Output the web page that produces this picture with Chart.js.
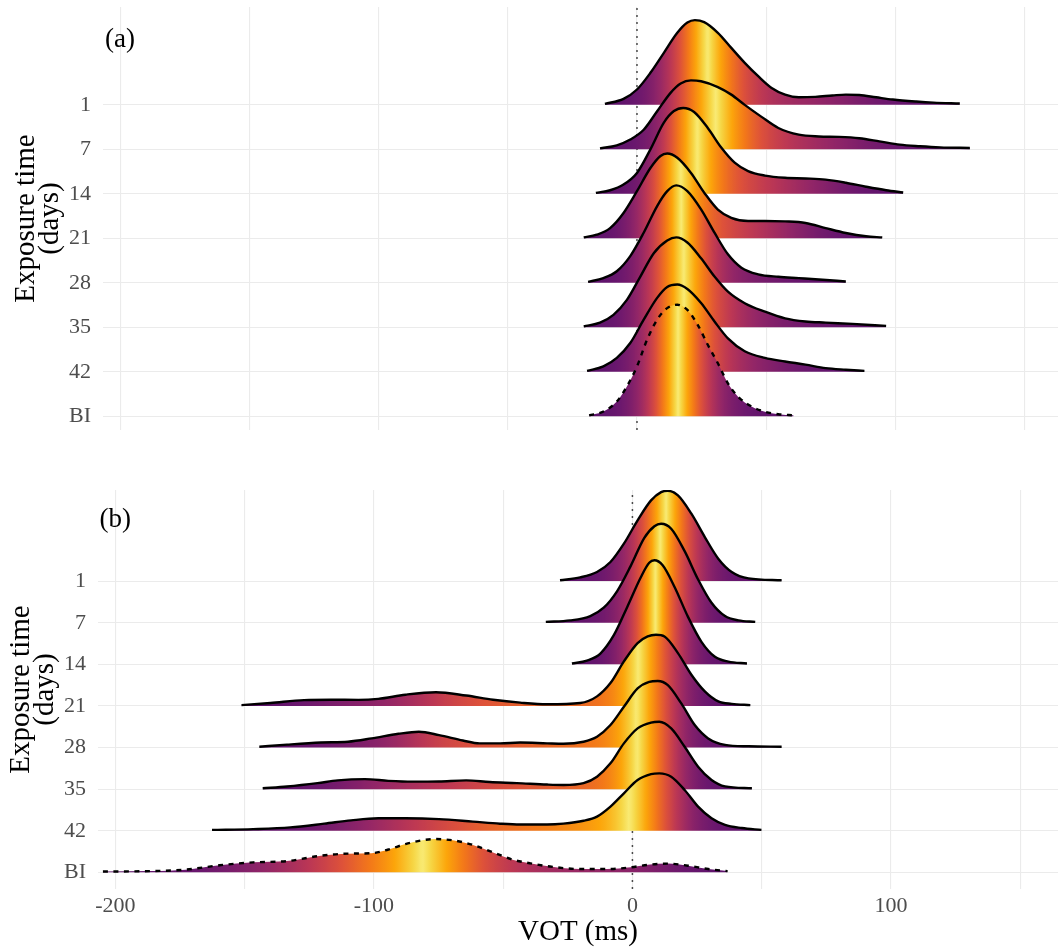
<!DOCTYPE html>
<html>
<head>
<meta charset="utf-8">
<script src="https://cdn.jsdelivr.net/npm/chart.js@4.4.1/dist/chart.umd.min.js"></script>
<style>
html,body{margin:0;padding:0;background:#ffffff;}
#wrap{position:relative;width:1058px;height:949px;overflow:hidden;}
canvas{position:absolute;left:0;}
</style>
</head>
<body>
<div id="wrap">
<canvas id="chartA" width="1058" height="440" style="top:0px"></canvas>
<canvas id="chartB" width="1058" height="489" style="top:460px"></canvas>
</div>
<script>
// ---------------- data ----------------
const rowLabels = ['1', '7', '14', '21', '28', '35', '42', 'BI'];
const xGridTicks = [-200, -150, -100, -50, 0, 50, 100, 150];
const xLabelTicks = [-200, -100, 0, 100];
const panelLabels = ['(a)', '(b)'];
const xTitle = 'VOT (ms)';
const yTitle = ['Exposure time', '(days)'];

// Panel (a): VOT values (ms) and ridge heights (row units)
const a_vot_1  = [-12.4, -5.2, 0, 5.2, 10.4, 15.6, 19.5, 22.4, 26, 31.3, 36.5, 41.7, 46.9, 52.1, 57.3, 62.6, 69, 75.6, 80.8, 86, 92.5, 99, 108, 114.7, 124.9];
const a_dens_1 = [0.02, 0.135, 0.345, 0.72, 1.17, 1.62, 1.85, 1.905, 1.86, 1.62, 1.28, 0.945, 0.645, 0.38, 0.23, 0.17, 0.18, 0.21, 0.23, 0.22, 0.17, 0.12, 0.075, 0.05, 0.03];
const a_vot_7  = [-14.3, -7.8, -2.6, 2.6, 7.8, 13, 16.9, 20.9, 24.8, 31.3, 36.5, 41.7, 48.2, 54.7, 62.6, 70.4, 78.2, 86, 93.8, 101.7, 109.5, 117.3, 128.8];
const a_dens_7 = [0.02, 0.09, 0.22, 0.44, 0.855, 1.27, 1.48, 1.55, 1.53, 1.40, 1.23, 1.0, 0.73, 0.48, 0.33, 0.29, 0.28, 0.25, 0.18, 0.105, 0.07, 0.045, 0.03];
const a_vot_14  = [-15.9, -10.4, -5.2, 0, 5.2, 10.4, 14.3, 17.9, 22.1, 27.4, 32.6, 37.8, 43, 49.5, 57.3, 65.2, 73, 80.8, 88.6, 96.4, 103];
const a_dens_14 = [0.02, 0.08, 0.21, 0.47, 1.0, 1.6, 1.86, 1.93, 1.84, 1.48, 1.04, 0.70, 0.51, 0.41, 0.36, 0.345, 0.32, 0.25, 0.16, 0.08, 0.03];
const a_vot_21  = [-20.6, -15.6, -10.4, -5.2, 0, 5.2, 9.1, 11.7, 15.6, 20.9, 26.1, 31.3, 36.5, 43, 49.5, 57.3, 65.2, 73, 80.8, 88.6, 94.9];
const a_dens_21 = [0.02, 0.08, 0.23, 0.57, 1.06, 1.58, 1.85, 1.905, 1.81, 1.47, 1.02, 0.645, 0.46, 0.39, 0.39, 0.38, 0.345, 0.23, 0.12, 0.045, 0.02];
const a_vot_28  = [-18.9, -13, -7.8, -2.6, 2.6, 7.8, 11.7, 15.2, 19.5, 24.8, 30, 35.2, 40.4, 46.9, 54.7, 62.6, 70.4, 80.8];
const a_dens_28 = [0.02, 0.105, 0.26, 0.6, 1.125, 1.725, 2.06, 2.19, 2.06, 1.65, 1.125, 0.64, 0.34, 0.19, 0.135, 0.105, 0.075, 0.03];
const a_vot_35  = [-20.6, -14.3, -9.1, -3.9, 1.3, 6.5, 11.7, 15.2, 19.5, 24.8, 30, 35.2, 41.7, 49.5, 57.3, 65.2, 73, 83.4, 96.4];
const a_dens_35 = [0.02, 0.105, 0.28, 0.615, 1.14, 1.665, 1.95, 2.02, 1.905, 1.55, 1.14, 0.80, 0.54, 0.35, 0.2, 0.13, 0.105, 0.075, 0.03];
const a_vot_42  = [-19.3, -13, -7.8, -2.6, 2.6, 7.8, 11.7, 15.6, 19.5, 24.8, 30, 35.2, 41.7, 49.5, 57.3, 65.2, 73, 80.8, 88];
const a_dens_42 = [0.02, 0.12, 0.31, 0.645, 1.17, 1.66, 1.905, 1.96, 1.86, 1.545, 1.13, 0.75, 0.46, 0.31, 0.23, 0.16, 0.08, 0.045, 0.02];
const a_vot_BI  = [-18.5, -13, -7.8, -3.9, 0, 3.9, 7.8, 11.7, 15.6, 19.5, 23.5, 27.4, 31.3, 35.2, 39.1, 44.3, 49.5, 54.7, 60.6];
const a_dens_BI = [0.02, 0.105, 0.33, 0.67, 1.12, 1.72, 2.17, 2.43, 2.505, 2.39, 2.055, 1.605, 1.19, 0.74, 0.44, 0.22, 0.1, 0.045, 0.02];

// Panel (b)
const b_vot_1  = [-28, -20.2, -13.7, -8.5, -3.3, 2, 7.2, 11.1, 13.7, 17.6, 22.8, 28, 33.2, 38.4, 44.9, 57.7];
const b_dens_1 = [0.02, 0.09, 0.22, 0.46, 0.9, 1.46, 1.94, 2.14, 2.17, 2.06, 1.62, 1.06, 0.54, 0.22, 0.065, 0.02];
const b_vot_7  = [-33.5, -24.1, -16.3, -11.1, -5.9, -0.7, 4.6, 8.5, 11.1, 15, 20.2, 25.4, 30.6, 35.8, 41, 47.5];
const b_dens_7 = [0.02, 0.055, 0.16, 0.36, 0.76, 1.36, 2.04, 2.32, 2.38, 2.26, 1.72, 1.04, 0.48, 0.16, 0.055, 0.02];
const b_vot_14  = [-23.4, -17.6, -12.4, -7.2, -2, 3.3, 6.5, 8.5, 11.7, 16.3, 21.5, 26.7, 31.9, 37.1, 44.3];
const b_dens_14 = [0.02, 0.09, 0.26, 0.70, 1.38, 2.1, 2.44, 2.5, 2.38, 1.86, 1.14, 0.54, 0.18, 0.065, 0.02];
const b_vot_21  = [-151.2, -140, -127, -116.6, -106, -98.3, -87.8, -76, -64.3, -53.9, -43.4, -33, -20.2, -13.7, -8.5, -3.3, 2, 5.9, 9.1, 12.4, 17.6, 22.8, 28, 33.2, 38.4, 45.6];
const b_dens_21 = [0.02, 0.07, 0.14, 0.15, 0.145, 0.17, 0.27, 0.33, 0.25, 0.15, 0.08, 0.04, 0.07, 0.23, 0.55, 1.07, 1.51, 1.67, 1.71, 1.67, 1.27, 0.75, 0.35, 0.11, 0.05, 0.02];
const b_vot_28  = [-144.3, -133.6, -120.5, -110, -100.9, -90.5, -82.6, -74.8, -65.6, -59.1, -51.2, -43.4, -33, -26.7, -18.9, -13.7, -8.5, -3.3, 2, 6.5, 9.8, 13.7, 18.9, 24.1, 29.3, 35.8, 44.9, 57.7];
const b_dens_28 = [0.02, 0.07, 0.12, 0.14, 0.22, 0.33, 0.38, 0.3, 0.17, 0.1, 0.1, 0.12, 0.1, 0.09, 0.14, 0.26, 0.54, 0.98, 1.42, 1.58, 1.6, 1.5, 1.06, 0.54, 0.22, 0.065, 0.03, 0.02];
const b_vot_35  = [-143, -133.6, -121.8, -114, -103.5, -94.4, -85.2, -74.8, -64.3, -55.2, -44.7, -33, -26.7, -18.9, -13.7, -8.5, -3.3, 2, 7.2, 10.4, 15, 20.2, 25.4, 30.6, 35.8, 46.2];
const b_dens_35 = [0.02, 0.065, 0.145, 0.21, 0.24, 0.2, 0.18, 0.185, 0.21, 0.17, 0.145, 0.11, 0.1, 0.145, 0.3, 0.62, 1.1, 1.46, 1.6, 1.62, 1.46, 1.02, 0.54, 0.22, 0.065, 0.02];
const b_vot_42  = [-162.6, -146.7, -132.3, -119.2, -108.8, -98.3, -87.8, -74.8, -61.7, -51.2, -43.4, -33, -26.7, -18.9, -13.7, -8.5, -3.3, 2, 7.2, 10.4, 15, 20.2, 25.4, 30.6, 35.8, 42.3, 49.9];
const b_dens_42 = [0.02, 0.04, 0.08, 0.17, 0.25, 0.3, 0.3, 0.28, 0.22, 0.17, 0.15, 0.15, 0.17, 0.24, 0.34, 0.58, 0.9, 1.22, 1.36, 1.38, 1.3, 0.98, 0.58, 0.3, 0.14, 0.065, 0.02];
const b_vot_BI  = [-204.8, -185.9, -172.8, -159.7, -146.7, -133.6, -120.5, -110, -100.9, -94.4, -87.8, -81.3, -76, -69.5, -61.7, -53.9, -46, -39.7, -31.9, -20.2, -9.8, -0.7, 5.9, 13.7, 21.5, 29.3, 36.8];
const b_dens_BI = [0.02, 0.03, 0.065, 0.17, 0.24, 0.27, 0.40, 0.45, 0.46, 0.55, 0.68, 0.77, 0.8, 0.77, 0.66, 0.48, 0.3, 0.22, 0.14, 0.08, 0.08, 0.12, 0.18, 0.21, 0.16, 0.08, 0.03];

const panelASeries = [[a_vot_1, a_dens_1], [a_vot_7, a_dens_7], [a_vot_14, a_dens_14], [a_vot_21, a_dens_21], [a_vot_28, a_dens_28], [a_vot_35, a_dens_35], [a_vot_42, a_dens_42], [a_vot_BI, a_dens_BI]];
const panelBSeries = [[b_vot_1, b_dens_1], [b_vot_7, b_dens_7], [b_vot_14, b_dens_14], [b_vot_21, b_dens_21], [b_vot_28, b_dens_28], [b_vot_35, b_dens_35], [b_vot_42, b_dens_42], [b_vot_BI, b_dens_BI]];

// ---------------- colour helpers (inferno, tail probability) ----------------
const INFERNO = ['#000004', '#160b39', '#420a68', '#6a176e', '#932667', '#bc3754', '#dd513a', '#f37819', '#fca50a', '#f6d746', '#fcffa4'];
const INF_RGB = INFERNO.map(h => [parseInt(h.slice(1, 3), 16), parseInt(h.slice(3, 5), 16), parseInt(h.slice(5, 7), 16)]);
const CBEGIN = 0.27, CEND = 0.95;
function inferno(p) {
  p = Math.max(0, Math.min(1, p));
  const s = p * 10, i = Math.min(9, Math.floor(s)), f = s - i;
  const a = INF_RGB[i], b = INF_RGB[i + 1];
  return 'rgb(' + Math.round(a[0] + (b[0] - a[0]) * f) + ',' + Math.round(a[1] + (b[1] - a[1]) * f) + ',' + Math.round(a[2] + (b[2] - a[2]) * f) + ')';
}
function densAt(vot, dens, x) {
  for (let i = 1; i < vot.length; i++) {
    if (x <= vot[i]) {
      const f = (x - vot[i - 1]) / (vot[i] - vot[i - 1]);
      return dens[i - 1] + (dens[i] - dens[i - 1]) * f;
    }
  }
  return dens[dens.length - 1];
}
function ridgeFill(chart, vot, dens) {
  if (!chart.chartArea || !chart.scales || !chart.scales.x) return 'rgb(106,23,110)';
  const xs = chart.scales.x;
  const N = 240, x0 = vot[0], x1 = vot[vot.length - 1];
  const d = [], F = [0];
  for (let k = 0; k <= N; k++) d.push(densAt(vot, dens, x0 + (x1 - x0) * k / N));
  for (let k = 1; k <= N; k++) F.push(F[k - 1] + (d[k - 1] + d[k]) / 2);
  const tot = F[N];
  const g = chart.ctx.createLinearGradient(xs.getPixelForValue(x0), 0, xs.getPixelForValue(x1), 0);
  for (let k = 0; k <= N; k++) {
    const e = F[k] / tot;
    const t = 0.5 - Math.abs(0.5 - e);
    g.addColorStop(k / N, inferno(CBEGIN + (CEND - CBEGIN) * t / 0.5));
  }
  return g;
}

// ---------------- chart building ----------------
Chart.defaults.font.family = "'Liberation Serif', 'Times New Roman', serif";
Chart.defaults.animation = false;

const panelLabelPlugin = {
  id: 'panelLabel',
  afterDatasetsDraw(chart, args, opts) {
    const ctx = chart.ctx;
    ctx.save();
    ctx.font = "27px 'Liberation Serif', serif";
    ctx.fillStyle = '#000000';
    ctx.textAlign = 'center';
    ctx.textBaseline = 'middle';
    ctx.fillText(opts.text, chart.scales.x.getPixelForValue(opts.x), chart.scales.y.getPixelForValue(opts.y));
    ctx.restore();
  }
};

function makePanel(canvasId, series, cfg) {
  const n = rowLabels.length;
  const datasets = [{
    data: [{x: 0, y: cfg.ymin}, {x: 0, y: cfg.ymax}],
    borderColor: '#4a4a4a', borderWidth: 1.5, borderDash: [2, 5],
    pointRadius: 0, fill: false, order: 100
  }];
  series.forEach((s, i) => {
    const pos = n - i;
    const vot = s[0], dens = s[1];
    datasets.push({
      label: rowLabels[i],
      data: vot.map((x, j) => ({x: x, y: pos + dens[j]})),
      borderColor: '#000000',
      borderWidth: 2.4,
      borderDash: rowLabels[i] === 'BI' ? [5, 5.5] : [],
      borderCapStyle: 'butt',
      borderJoinStyle: 'round',
      pointRadius: 0,
      fill: {value: pos},
      backgroundColor: (c) => ridgeFill(c.chart, vot, dens),
      cubicInterpolationMode: 'monotone',
      order: pos
    });
  });

  return new Chart(document.getElementById(canvasId), {
    type: 'line',
    data: {datasets: datasets},
    plugins: [panelLabelPlugin],
    options: {
      responsive: false,
      animation: false,
      events: [],
      layout: {padding: {top: cfg.top, bottom: cfg.bottom, left: 0, right: 0}},
      plugins: {
        legend: {display: false},
        tooltip: {enabled: false},
        panelLabel: {text: cfg.label, x: -200, y: 9.46}
      },
      scales: {
        x: {
          type: 'linear',
          min: cfg.xmin, max: cfg.xmax,
          afterBuildTicks: (sc) => { sc.ticks = xGridTicks.map(v => ({value: v})); },
          ticks: {
            display: cfg.showX, autoSkip: false, maxRotation: 0, padding: 6,
            color: '#4d4d4d', font: {size: 22, lineHeight: 1},
            callback: (v) => xLabelTicks.includes(v) ? String(v) : ''
          },
          grid: {color: '#ebebeb', lineWidth: 1.1, drawTicks: false},
          border: {display: false},
          title: {
            display: cfg.showX, text: xTitle, color: '#000000',
            font: {size: 29, lineHeight: 1}, padding: {top: 0, bottom: 2.5}
          },
          afterFit: (sc) => { sc.height = cfg.xh; sc.paddingLeft = 0; sc.paddingRight = 0; }
        },
        y: {
          type: 'linear',
          min: cfg.ymin, max: cfg.ymax,
          afterBuildTicks: (sc) => { sc.ticks = rowLabels.map((_, i) => ({value: i + 1})); },
          ticks: {
            autoSkip: false, padding: 12, color: '#4d4d4d', font: {size: 22},
            callback: (v) => rowLabels[n - v]
          },
          grid: {color: '#ebebeb', lineWidth: 1.1, drawTicks: false},
          border: {display: false},
          title: {
            display: true, text: yTitle, color: '#000000',
            font: {size: 29, lineHeight: 0.82}, padding: {top: cfg.tpad, bottom: 0}
          },
          afterFit: (sc) => { sc.width = cfg.yw; sc.paddingTop = 0; sc.paddingBottom = 0; }
        }
      }
    }
  });
}

makePanel('chartA', panelASeries, {
  label: panelLabels[0], ymin: 0.69, ymax: 10.2, xmin: -206.6, xmax: 162.9,
  yw: 103, xh: 0, top: 7, bottom: 10, tpad: 15, showX: false
});
makePanel('chartB', panelBSeries, {
  label: panelLabels[1], ymin: 0.60, ymax: 10.19, xmin: -206.7, xmax: 164.6,
  yw: 98, xh: 60, top: 30, bottom: 0, tpad: 10, showX: true
});
</script>
</body>
</html>
